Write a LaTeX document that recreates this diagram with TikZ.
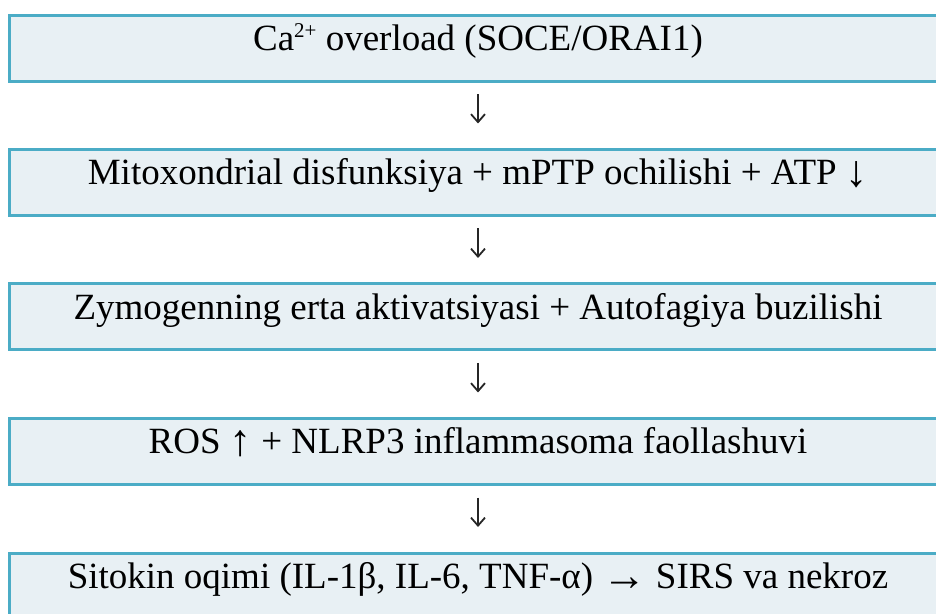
\documentclass[tikz,border=0pt]{standalone}
\usepackage{fontspec}
\setmainfont{Liberation Serif}
\usepackage{graphicx}
\usepackage{tikz}
\usetikzlibrary{arrows.meta, positioning}
\definecolor{boxline}{RGB}{75,172,198}
\definecolor{boxfill}{RGB}{232,240,244}
\newcommand{\bigarr}[1]{\raisebox{-2pt}{\scalebox{1.2}{#1}}}
\newcommand{\supion}[1]{\raisebox{13pt}{\fontsize{21}{21}\selectfont #1}}

\begin{document}
\begin{tikzpicture}[x=1pt,y=1pt,>={Straight Barb[length=8pt,width=14pt]},
	stepbox/.style={draw=boxline,fill=boxfill,line width=3pt,rectangle,minimum width=937pt,inner xsep=0pt,inner ysep=0pt,text height=35.5pt,text depth=30.5pt,font=\fontsize{37}{44}\selectfont},
	flow/.style={->,line width=1.8pt,draw=black!85,shorten <=11.5pt,shorten >=24.5pt}]
	\path[use as bounding box, clip] (0,0) rectangle (936,613);
	\node[stepbox] (ca) at (478,564.5) {Ca\supion{2+} overload (SOCE/ORAI1)};
	\node[stepbox] (mito) at (478,430.5) {Mitoxondrial disfunksiya + mPTP ochilishi + ATP \bigarr{↓}};
	\node[stepbox] (zym) at (478,296) {Zymogenning erta aktivatsiyasi + Autofagiya buzilishi};
	\node[stepbox] (ros) at (478,161.5) {ROS \bigarr{↑} + NLRP3 inflammasoma faollashuvi};
	\node[stepbox] (sirs) at (478,27) {Sitokin oqimi (IL-1β, IL-6, TNF-α) \bigarr{→} SIRS va nekroz};
	\path
		(ca) edge [flow] (mito)
		(mito) edge [flow] (zym)
		(zym) edge [flow] (ros)
		(ros) edge [flow] (sirs);
\end{tikzpicture}
\end{document}
